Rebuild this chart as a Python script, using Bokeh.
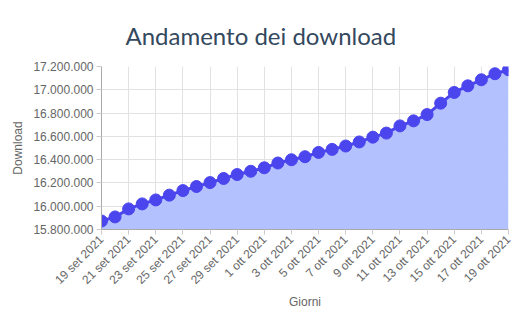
import math
from bokeh.plotting import figure
from bokeh.models import Range1d, FixedTicker, ColumnDataSource
from bokeh.embed import file_html
from bokeh.resources import INLINE

days = ["19 set 2021", "20 set 2021", "21 set 2021", "22 set 2021", "23 set 2021",
        "24 set 2021", "25 set 2021", "26 set 2021", "27 set 2021", "28 set 2021",
        "29 set 2021", "30 set 2021", "1 ott 2021", "2 ott 2021", "3 ott 2021",
        "4 ott 2021", "5 ott 2021", "6 ott 2021", "7 ott 2021", "8 ott 2021",
        "9 ott 2021", "10 ott 2021", "11 ott 2021", "12 ott 2021", "13 ott 2021",
        "14 ott 2021", "15 ott 2021", "16 ott 2021", "17 ott 2021", "18 ott 2021",
        "19 ott 2021"]
downloads = [15873000, 15908000, 15977000, 16020000, 16054000, 16095000, 16134000,
             16169000, 16203000, 16238000, 16272000, 16300000, 16330000, 16371000,
             16399000, 16425000, 16462000, 16488000, 16517000, 16552000, 16593000,
             16628000, 16690000, 16733000, 16787000, 16885000, 16977000, 17034000,
             17086000, 17138000, 17172000]
y_ticks = [15800000, 16000000, 16200000, 16400000, 16600000, 16800000, 17000000, 17200000]
y_tick_labels = ["15.800.000", "16.000.000", "16.200.000", "16.400.000",
                 "16.600.000", "16.800.000", "17.000.000", "17.200.000"]

idx = list(range(len(days)))
src = ColumnDataSource(dict(x=idx, y=downloads, base=[y_ticks[0]] * len(days)))

p = figure(width=521, height=324, output_backend="svg", toolbar_location=None,
           x_range=Range1d(0, len(days) - 1), y_range=Range1d(y_ticks[0], y_ticks[-1]),
           min_border_left=101, min_border_right=13, min_border_top=66, min_border_bottom=95)
p.outline_line_color = None
p.background_fill_color = "white"
p.border_fill_color = "white"

p.title.text = "Andamento dei download"
p.title.text_font = "Lato"
p.title.text_font_size = "24px"
p.title.text_font_style = "normal"
p.title.text_color = "#34495e"
p.title.align = "left"
p.title.offset = 24
p.title.standoff = 34

p.varea(x="x", y1="base", y2="y", source=src, fill_color="#b3c1ff", fill_alpha=1.0)
p.line(x="x", y="y", source=src, line_color="#4b45ee", line_width=3)
p.scatter(x="x", y="y", source=src, size=12, fill_color="#4b45ee", line_color="#4b45ee")

tick_pos = idx[::2]
p.xaxis.ticker = FixedTicker(ticks=tick_pos)
p.xaxis.major_label_overrides = {i: days[i] for i in tick_pos}
p.xaxis.major_label_orientation = math.pi / 4
p.yaxis.ticker = FixedTicker(ticks=y_ticks)
p.yaxis.major_label_overrides = {v: l for v, l in zip(y_ticks, y_tick_labels)}

for ax in (p.xaxis[0], p.yaxis[0]):
    ax.major_label_text_font = "Liberation Sans"
    ax.major_label_text_font_size = "12px"
    ax.major_label_text_color = "#666666"
    ax.axis_label_text_font = "Liberation Sans"
    ax.axis_label_text_font_size = "12px"
    ax.axis_label_text_font_style = "normal"
    ax.axis_label_text_color = "#666666"
    ax.axis_line_color = "#aaaaaa"
    ax.major_tick_line_color = "#cccccc"
    ax.major_tick_in = 0
    ax.major_tick_out = 5
    ax.minor_tick_line_color = None
    ax.major_label_standoff = 3

p.xaxis.axis_label_standoff = 0
p.xaxis.axis_label = "Giorni"
p.yaxis.axis_label = "Download"

p.xgrid.grid_line_color = "#e2e2e2"
p.ygrid.grid_line_color = "#e2e2e2"

open("out.html", "w").write(file_html(p, INLINE))
